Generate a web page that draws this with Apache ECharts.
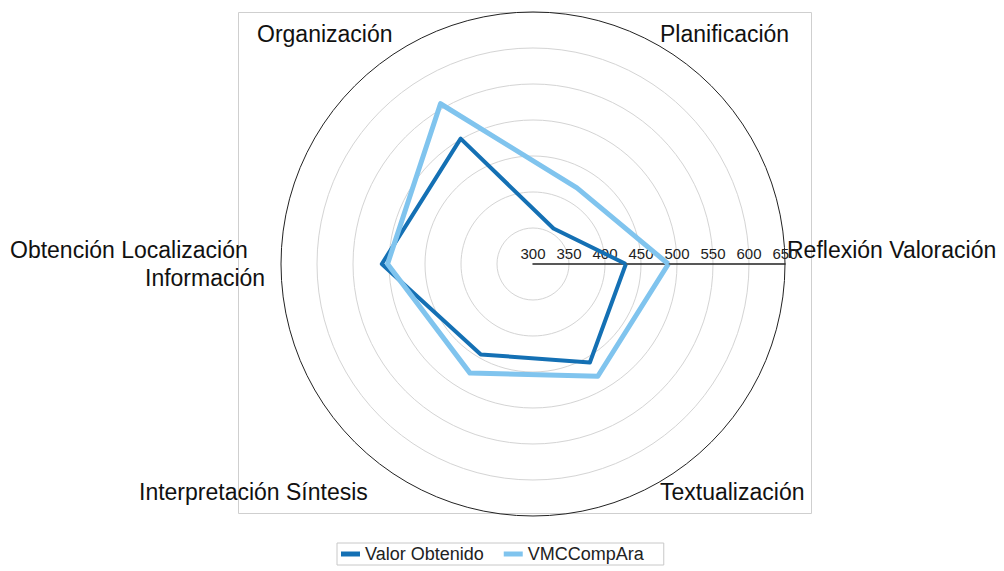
<!DOCTYPE html>
<html>
<head>
<meta charset="utf-8">
<script src="https://cdn.jsdelivr.net/npm/echarts@6/dist/echarts.min.js"></script>
<style>
  html, body { margin: 0; padding: 0; background: #fff; }
  #chart { width: 1004px; height: 571px; }
</style>
</head>
<body>
<div id="chart"></div>
<script>
// radar de competencias — ECharts
const indicators = [
  "Reflexión Valoración",
  "Planificación",
  "Organización",
  "Obtención Localización Información",
  "Interpretación Síntesis",
  "Textualización",
];
const valorObtenido = [429, 357, 501, 510, 445, 458];
const vmcCompAra = [488, 422, 557, 502, 475, 480];
const scaleMin = 300;
const scaleMax = 650;
const scaleStep = 50;

const chart = echarts.init(document.getElementById("chart"), null, { renderer: "svg" });

const ringColors = ["#d4d4d4", "#d4d4d4", "#d4d4d4", "#d4d4d4", "#d4d4d4", "#d4d4d4", "#d4d4d4", "#222"];
const labelFont = { fontFamily: "Liberation Sans, Arial", fontSize: 23, fill: "#111" };

chart.setOption({
  backgroundColor: "#fff",
  animation: false,
  legend: {
    left: 337, top: 543,
    padding: [2, 20, 2, 4],
    itemGap: 20,
    borderColor: "#c8c8c8", borderWidth: 1,
    icon: "rect", itemWidth: 19, itemHeight: 5,
    textStyle: { fontFamily: "Liberation Sans, Arial", fontSize: 18, color: "#222" },
    data: ["Valor Obtenido", "VMCCompAra"],
  },
  radar: {
    center: [533, 264],
    radius: 252,
    shape: "circle",
    startAngle: 0,
    splitNumber: (scaleMax - scaleMin) / scaleStep,
    axisName: { show: false },
    axisLine: { show: false },
    axisTick: { show: false },
    axisLabel: {
      show: false,
      color: "#222",
      fontFamily: "Liberation Sans, Arial",
      fontSize: 15,
      margin: 3,
    },
    splitLine: { lineStyle: { color: ringColors, width: 1 } },
    splitArea: { show: false },
    indicator: indicators.map((name, i) => ({
      name, min: scaleMin, max: scaleMax,
      axisLine: { show: i === 0, lineStyle: { color: "#222", width: 1.5 } },
      axisLabel: { show: i === 0 },
    })),
  },
  graphic: [
    { type: "rect", shape: { x: 238.5, y: 12.5, width: 573, height: 501 }, silent: true, z: -10,
      style: { fill: "none", stroke: "#cfcfcf", lineWidth: 1 } },
    { type: "text", left: 257, top: 22, style: { text: "Organización", ...labelFont } },
    { type: "text", left: 660, top: 22, style: { text: "Planificación", ...labelFont } },
    { type: "text", left: 787, top: 238, style: { text: "Reflexión Valoración", ...labelFont } },
    { type: "text", left: 10, top: 238, style: { text: "Obtención Localización", ...labelFont } },
    { type: "text", left: 145, top: 266, style: { text: "Información", ...labelFont } },
    { type: "text", left: 139, top: 480, style: { text: "Interpretación Síntesis", ...labelFont } },
    { type: "text", left: 660, top: 480, style: { text: "Textualización", ...labelFont } },
  ],
  series: [{
    type: "radar",
    symbol: "none",
    data: [
      { name: "Valor Obtenido", value: valorObtenido,
        lineStyle: { color: "#1470b4", width: 4 }, itemStyle: { color: "#1470b4" } },
      { name: "VMCCompAra", value: vmcCompAra,
        lineStyle: { color: "#80c4ee", width: 5 }, itemStyle: { color: "#80c4ee" } },
    ],
  }],
});
</script>
</body>
</html>
